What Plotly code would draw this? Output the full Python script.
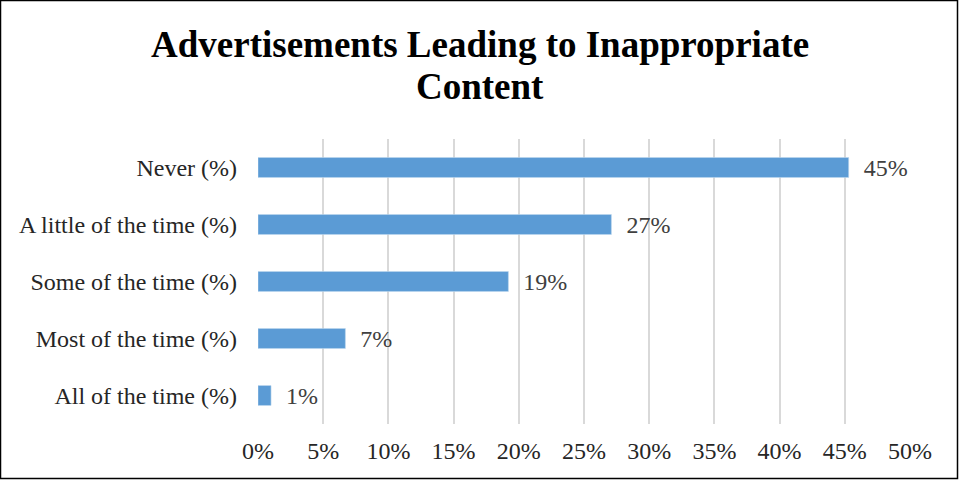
import plotly.graph_objects as go

# Survey responses: how often advertisements lead to inappropriate content
categories = [
    "All of the time (%)",
    "Most of the time (%)",
    "Some of the time (%)",
    "A little of the time (%)",
    "Never (%)",
]
shares = [1.0, 6.7, 19.2, 27.1, 45.3]
tick_values = [0, 5, 10, 15, 20, 25, 30, 35, 40, 45, 50]
tick_labels = [f"{v}%" for v in tick_values]
title_lines = ["Advertisements Leading to Inappropriate", "Content"]

W, H = 959, 481
L, R, T, B = 258, 49, 139, 57
pw, ph = W - L - R, H - T - B
FONT = "Liberation Serif"

fig = go.Figure(
    go.Bar(
        x=shares,
        y=categories,
        orientation="h",
        width=0.35,
        marker=dict(color="#5B9BD5", line=dict(color="#BDD7EE", width=0.6)),
        texttemplate="\u00a0\u00a0%{x:.0f}%",
        textposition="outside",
        constraintext="none",
        textfont=dict(family=FONT, size=24, color="#404040"),
        cliponaxis=False,
    )
)

# outer frame around the whole chart
fig.add_shape(
    type="rect", xref="paper", yref="paper",
    x0=-L / pw + 0.5 / pw, x1=1 + (R - 1.5) / pw,
    y0=-(B - 2.5) / ph, y1=1 + (T - 0.5) / ph,
    line=dict(color="#000000", width=1.5), fillcolor="rgba(0,0,0,0)",
)

# two-line bold title
for line, ypx in zip(title_lines, [44, 87]):
    fig.add_annotation(
        text=f"<b>{line}</b>", xref="paper", yref="paper",
        x=(W / 2 - L) / pw, y=1 + (T - ypx) / ph,
        xanchor="center", yanchor="middle", showarrow=False,
        font=dict(family=FONT, size=37, color="#000000"),
    )

fig.update_layout(
    width=W, height=H,
    margin=dict(l=L, r=R, t=T, b=B),
    paper_bgcolor="white", plot_bgcolor="white",
    showlegend=False,
    xaxis=dict(
        range=[0, 50], tickvals=tick_values, ticktext=tick_labels,
        showgrid=True, gridcolor="#D9D9D9", gridwidth=2,
        zeroline=False, showline=False, ticks="",
        ticklabelstandoff=10,
        tickfont=dict(family=FONT, size=24, color="#262626"),
    ),
    yaxis=dict(
        categoryorder="array", categoryarray=categories,
        range=[-0.5, 4.5],
        showgrid=False, zeroline=False, showline=False, ticks="",
        ticklabelstandoff=20,
        tickfont=dict(family=FONT, size=24, color="#262626"),
    ),
)

fig.write_html("out.html")
